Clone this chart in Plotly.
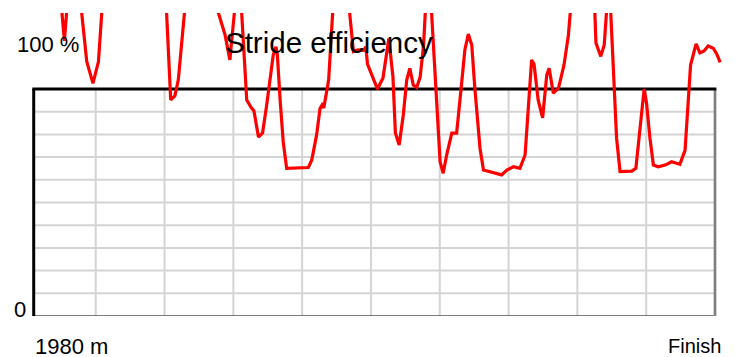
import plotly.graph_objects as go

# ---- data ----
distance_m = [
    1980.20, 1981.00, 1981.09, 1981.17, 1981.57, 1981.74, 1981.92, 1982.08, 1982.19,
    1984.05, 1984.18, 1984.30, 1984.40, 1984.60,
    1985.50, 1985.76, 1985.90, 1986.05,
    1986.23, 1986.39, 1986.52, 1986.60, 1986.73, 1986.85, 1986.97, 1987.12, 1987.16,
    1987.24, 1987.28, 1987.36, 1987.45, 1987.55, 1987.85, 1988.18, 1988.28, 1988.42,
    1988.52, 1988.58, 1988.63, 1988.77, 1988.90,
    1989.36, 1989.49, 1989.62, 1989.80, 1989.85, 1989.90, 1990.06, 1990.19, 1990.35,
    1990.45, 1990.52, 1990.64, 1990.71, 1990.82, 1990.94, 1991.04, 1991.13, 1991.23,
    1991.33, 1991.43, 1991.53, 1991.59,
    1991.75, 1991.96, 1992.01, 1992.10, 1992.20, 1992.35, 1992.49, 1992.64, 1992.73,
    1992.83, 1992.93, 1993.02, 1993.17, 1993.27, 1993.46, 1993.80, 1993.95, 1994.14,
    1994.33, 1994.48, 1994.67, 1994.74, 1994.86, 1994.99, 1995.11, 1995.18, 1995.30,
    1995.45, 1995.61, 1995.74, 1995.81,
    1996.50, 1996.54, 1996.68, 1996.78, 1996.86,
    1996.96, 1997.14, 1997.24, 1997.43, 1997.58, 1997.70, 1997.77, 1997.94, 1998.01,
    1998.11, 1998.21, 1998.35, 1998.55, 1998.74, 1998.98, 1999.13, 1999.29, 1999.45,
    1999.56, 1999.68, 1999.80, 1999.95, 2000.05, 2000.15,
]
efficiency_pct = [
    114, 114, 101.0, 114, 114, 93.4, 85.4, 93.4, 114,
    114, 79.3, 80.8, 86.6, 114,
    114, 103.2, 94.0, 114,
    114, 79.3, 76.5, 75.3, 65.7, 67.2, 77.5, 93.2, 95.8,
    98.8, 95.8, 79.3, 63.9, 54.2, 54.3, 54.5, 57.3, 66.4,
    76.2, 77.5, 76.4, 86.6, 114,
    114, 97.1, 97.7, 97.5, 98.9, 92.5, 87.0, 83.3, 87.4,
    96.9, 101.9, 87.7, 67.2, 62.8, 73.8, 86.6, 90.9, 84.8,
    83.9, 87.7, 99.5, 114,
    114, 67.7, 56.6, 52.4, 59.1, 67.1, 67.1, 86.0, 97.7,
    103.5, 99.5, 83.6, 61.6, 53.6, 53.0, 51.8, 53.6, 54.8,
    54.2, 59.1, 94.0, 92.5, 79.3, 72.7, 88.5, 90.9, 81.8,
    83.6, 92.1, 103.2, 114,
    114, 100.2, 95.3, 99.5, 114,
    114, 65.2, 53.0, 53.0, 53.2, 54.2, 62.8, 83.3, 78.2,
    65.2, 55.4, 54.8, 55.4, 56.6, 55.7, 60.9, 92.1, 99.9,
    96.6, 97.3, 99.1, 98.3, 96.2, 93.1,
]
grid_x_m = [1982, 1984, 1986, 1988, 1990, 1992, 1994, 1996, 1998]
grid_y_pct = [100 * k / 12 for k in range(1, 10)]
box_x = [1980.198, 2000.0]
box_y = [0.0, 100 * 10 / 12]
title_text = "Stride efficiency"
y_labels = ["100 %", "0"]
x_labels = ["1980 m", "Finish"]

# ---- layout geometry ----
W, H = 737, 357
ML, MR, MT, MB = 30, 7, 13, 41
PW, PH = W - ML - MR, H - MT - MB


def px(xp):
    return (xp - ML) / PW


def py(yp):
    return (H - MB - yp) / PH


FONT = "Liberation Sans, Arial, Helvetica, sans-serif"

fig = go.Figure()
fig.add_trace(go.Scatter(
    x=distance_m, y=efficiency_pct, mode="lines",
    line=dict(color="#ff0000", width=3.2),
    hoverinfo="skip", showlegend=False,
))

shapes = []
for gx in grid_x_m:
    shapes.append(dict(type="line", xref="x", yref="y", x0=gx, x1=gx,
                       y0=box_y[0], y1=box_y[1],
                       line=dict(color="#d4d4d4", width=2), layer="below"))
for gy in grid_y_pct:
    shapes.append(dict(type="line", xref="x", yref="y", x0=box_x[0], x1=box_x[1],
                       y0=gy, y1=gy,
                       line=dict(color="#d4d4d4", width=2), layer="below"))
# frame
shapes.append(dict(type="line", xref="x", yref="y", x0=box_x[0], x1=box_x[1],
                   y0=box_y[0], y1=box_y[0], line=dict(color="#505050", width=1.6), layer="below"))
shapes.append(dict(type="line", xref="x", yref="y", x0=box_x[1], x1=box_x[1],
                   y0=box_y[0], y1=box_y[1], line=dict(color="#a8a8a8", width=3), layer="below"))
shapes.append(dict(type="line", xref="x", yref="y", x0=box_x[1], x1=box_x[1],
                   y0=box_y[0], y1=box_y[1], line=dict(color="#555555", width=1), layer="below"))
shapes.append(dict(type="line", xref="x", yref="y", x0=box_x[0], x1=box_x[0],
                   y0=box_y[0], y1=box_y[1], line=dict(color="#000000", width=3), layer="below"))
shapes.append(dict(type="line", xref="x", yref="y", x0=box_x[0] - 0.04, x1=box_x[1] + 0.04,
                   y0=box_y[1], y1=box_y[1], line=dict(color="#000000", width=3), layer="below"))

annotations = [
    dict(text=y_labels[0], x=px(15), y=py(44), xanchor="left", yanchor="middle",
         font=dict(size=22)),
    dict(text=title_text, x=px(329), y=py(42.5), xanchor="center", yanchor="middle",
         font=dict(size=29.5)),
    dict(text=y_labels[1], x=px(12), y=py(309), xanchor="left", yanchor="middle",
         font=dict(size=22)),
    dict(text=x_labels[0], x=px(33), y=py(346), xanchor="left", yanchor="middle",
         font=dict(size=22), height=20),
    dict(text=x_labels[1], x=px(723), y=py(345.5), xanchor="right", yanchor="middle",
         font=dict(size=20), height=20),
]
for a in annotations:
    a.update(xref="paper", yref="paper", showarrow=False)
    a["font"].update(family=FONT, color="#000000")

fig.update_layout(
    width=W, height=H,
    margin=dict(l=ML, r=MR, t=MT, b=MB, pad=0),
    paper_bgcolor="white", plot_bgcolor="white",
    xaxis=dict(range=[1980.0901, 2000.436], visible=False, showgrid=False, zeroline=False),
    yaxis=dict(range=[0, 111.23], visible=False, showgrid=False, zeroline=False),
    shapes=shapes, annotations=annotations, showlegend=False,
)

fig.write_html(
    "out.html",
    config={"displayModeBar": False},
    post_script="document.body.style.margin='0';document.body.style.overflow='hidden';",
)
